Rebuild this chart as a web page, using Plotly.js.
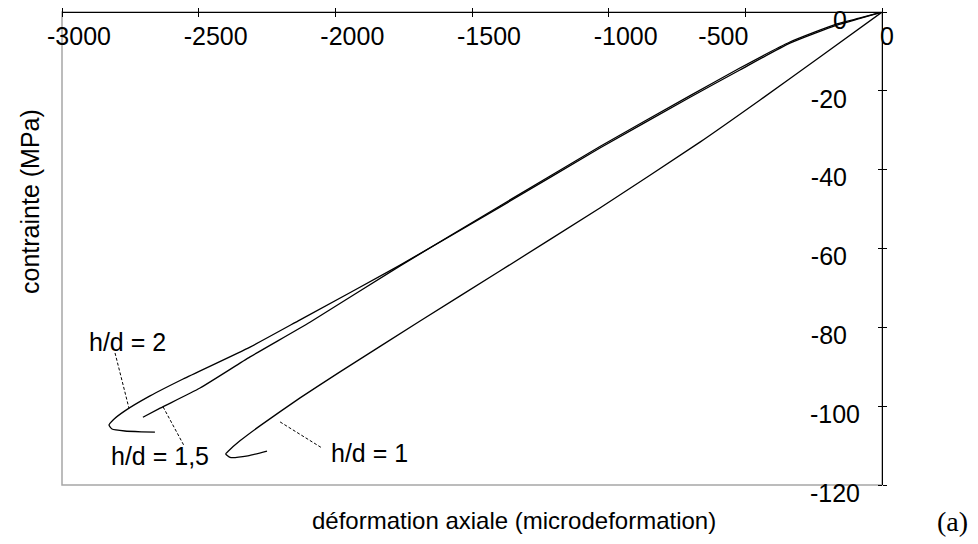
<!DOCTYPE html>
<html><head><meta charset="utf-8">
<script src="https://cdn.plot.ly/plotly-3.0.1.min.js"></script>
<style>html,body{margin:0;padding:0;background:#fff}#chart{width:978px;height:544px}</style>
</head><body><div id="chart"></div>
<script>
// h/d = 2
const strain_hd2 = [0,-80,-165,-337,-520,-702,-1032,-1398,-1763,-2129,-2312,-2557,-2678,-2770,-2813,-2828,-2817,-2770,-2710,-2660];
const stress_hd2 = [0,-1.6,-3.3,-7.9,-14.7,-21.6,-34.5,-49.5,-64.2,-78.1,-85.0,-93.1,-97.4,-101.2,-103.5,-104.8,-105.8,-106.3,-106.5,-106.6];
// h/d = 1,5
const strain_hd15 = [0,-80,-165,-337,-520,-702,-1032,-1398,-1763,-2093,-2312,-2495,-2641,-2704];
const stress_hd15 = [0,-1.5,-3.0,-7.6,-14.2,-21.2,-34.1,-49.2,-64.4,-78.7,-87.5,-95.4,-100.5,-102.8];
// h/d = 1
const strain_hd1 = [0,-227,-446,-666,-1032,-1398,-1690,-1983,-2129,-2276,-2349,-2393,-2401,-2385,-2320,-2250];
const stress_hd1 = [0,-11.4,-22.3,-33.0,-49.7,-65.7,-78.4,-91.3,-97.9,-105.0,-108.8,-111.5,-112.1,-113.0,-112.6,-111.4];

const xTicks = [-3000,-2500,-2000,-1500,-1000,-500,0];
const yTicks = [0,-20,-40,-60,-80,-100,-120];

const xRange = [-3000, 0];
const yRange = [-120, 0.02];
const font = {family:'"Liberation Sans", Arial, sans-serif', size:25, color:'black'};
const leader = {color:'black', width:1, dash:'3px,2px'};
const lineStyle = {color:'black', width:1.3, shape:'spline', smoothing:0.5};

const traces = [
  {x:strain_hd2, y:stress_hd2, mode:'lines', line:lineStyle, name:'h/d = 2', hoverinfo:'none'},
  {x:strain_hd15, y:stress_hd15, mode:'lines', line:lineStyle, name:'h/d = 1,5', hoverinfo:'none'},
  {x:strain_hd1, y:stress_hd1, mode:'lines', line:lineStyle, name:'h/d = 1', hoverinfo:'none'}
];
// invisible carriers so that every helper axis gets drawn
[['x2','y2'],['x3','y'],['x4','y'],['x','y3']].forEach(([xa,ya])=>{
  traces.push({x:[xRange[0]], y:[yRange[0]], xaxis:xa, yaxis:ya, mode:'markers', marker:{opacity:0}, hoverinfo:'none', showlegend:false});
});

function xAx(vals, extra){
  return Object.assign({range:xRange, anchor:'free', position:1, side:'bottom', ticks:'outside', ticklen:4, tickcolor:'black',
    tickvals:vals, ticktext:vals.map(String), ticklabelstandoff:-2, tickfont:font,
    showline:false, showgrid:false, zeroline:false, automargin:false}, extra);
}
function yAx(vals, extra){
  return Object.assign({range:yRange, anchor:'free', position:1, side:'left', ticks:'outside', ticklen:4, tickcolor:'black',
    tickvals:vals, ticktext:vals.map(String), ticklabelshift:8, ticklabeloverflow:'allow', tickfont:font,
    showline:false, showgrid:false, zeroline:false, automargin:false}, extra);
}

const layout = {
  width:978, height:544,
  margin:{l:62, r:96, t:12, b:59},
  paper_bgcolor:'white', plot_bgcolor:'white',
  showlegend:false,
  font:font,
  xaxis: xAx(xTicks.slice(0,5), {showline:true, linecolor:'black', linewidth:1, ticklabelshift:17}),
  xaxis3: xAx([xTicks[5]], {overlaying:'x', ticklabelshift:-22}),
  xaxis4: xAx([xTicks[6]], {overlaying:'x', ticklabelshift:5}),
  xaxis2: xAx(xTicks, {overlaying:'x', side:'top', showticklabels:false}),
  yaxis: yAx(yTicks.slice(0,5), {showline:true, linecolor:'black', linewidth:1, ticklabelstandoff:26}),
  yaxis3: yAx(yTicks.slice(5), {overlaying:'y', ticklabelstandoff:13}),
  yaxis2: yAx(yTicks, {overlaying:'y', side:'right', showticklabels:false}),
  shapes:[
    {type:'rect', xref:'paper', yref:'paper', x0:0, x1:1, y0:0, y1:1, line:{color:'#a6a6a6', width:1.5}, layer:'below'},
    {type:'line', xref:'x', yref:'y', x0:-2806, y0:-86.5, x1:-2755, y1:-100.5, line:leader},
    {type:'line', xref:'x', yref:'y', x0:-2630, y0:-100.2, x1:-2553, y1:-110.1, line:leader},
    {type:'line', xref:'x', yref:'y', x0:-2202, y0:-104.0, x1:-2049, y1:-110.6, line:leader}
  ],
  annotations:[
    {x:-2760, y:-83.7, xref:'x', yref:'y', text:'h/d = 2', showarrow:false, font:font, xanchor:'center', yanchor:'middle'},
    {x:-2643, y:-112.6, xref:'x', yref:'y', text:'h/d = 1,5', showarrow:false, font:font, xanchor:'center', yanchor:'middle'},
    {x:-1875, y:-111.8, xref:'x', yref:'y', text:'h/d = 1', showarrow:false, font:font, xanchor:'center', yanchor:'middle'},
    {x:30, y:202, text:'contrainte (MPa)', showarrow:false, textangle:-90,
     font:{family:font.family, size:25, color:'black'}},
    {x:514, y:520, text:'déformation axiale (microdeformation)', showarrow:false,
     font:{family:font.family, size:24, color:'black'}},
    {x:952, y:521, text:'(a)', showarrow:false, font:{family:'"Liberation Serif", "Times New Roman", serif', size:28, color:'black'}}
  ]
};
// pixel-positioned text annotations converted to paper fractions
const pw = 978-62-96, ph = 544-12-59;
layout.annotations.slice(3).forEach(a=>{
  a.xref='paper'; a.yref='paper'; a.xanchor='center'; a.yanchor='middle';
  const px=a.x, py=a.y;
  a.x=(px-62)/pw; a.y=1-(py-12)/ph;
});
Plotly.newPlot('chart', traces, layout, {staticPlot:true});
</script>
</body></html>
